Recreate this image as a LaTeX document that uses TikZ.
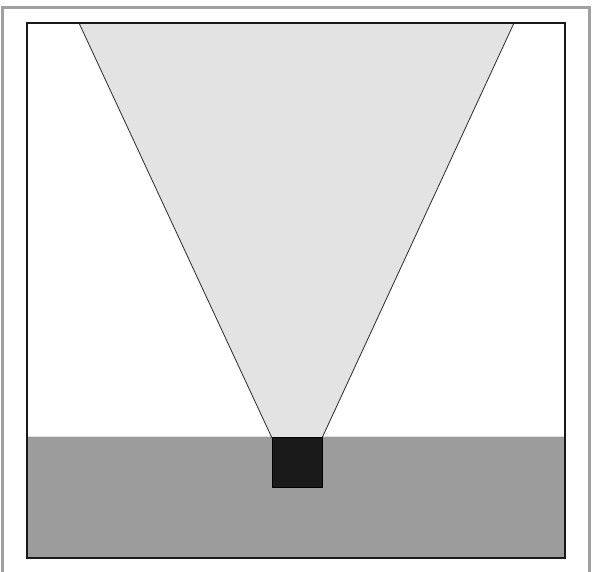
\documentclass[tikz,border=0pt]{standalone}
\usepackage{xcolor}
\usepackage{tikz}
\usetikzlibrary{positioning,calc}
\definecolor{framegray}{HTML}{A0A0A0}
\definecolor{groundgray}{HTML}{9C9C9C}
\definecolor{conegray}{HTML}{E3E3E3}
\definecolor{sensorblack}{HTML}{1A1A1A}
\tikzset{
  outerframe/.style = {draw=framegray, line width=2.2pt},
  field/.style      = {draw=black!90, line width=1.4pt},
  ground/.style     = {fill=groundgray},
  cone/.style       = {fill=conegray, draw=black!80, line width=0.6pt},
  sensor/.style     = {rectangle, fill=sensorblack, draw=black, line width=0.4pt,
                       minimum width=#1, minimum height=#1, inner sep=0pt},
}

\begin{document}
\begin{tikzpicture}[x=0.025cm, y=-0.025cm]
  \useasboundingbox (0,0) rectangle (592,572);
  % open frame round the scene
  \draw[outerframe] (2.5,572) -- (2.5,7.5) -- (589.5,7.5) -- (589.5,572);
  % ground below the horizon
  \fill[ground] (27,436) rectangle (565,558);
  \draw[white!70!groundgray, line width=0.6pt] (27,436.5) -- (565,436.5);
  % field of view
  \coordinate (apexl) at (272,438);
  \coordinate (apexr) at (322,438);
  \draw[cone] (apexl) -- (79,23) -- (514,23) -- (apexr) -- cycle;
  % sensor box
  \node[sensor=1.25cm] (cam) at (297,462.5) {};
  % square field border
  \draw[field] (27,23) rectangle (565,558);
\end{tikzpicture}
\end{document}
